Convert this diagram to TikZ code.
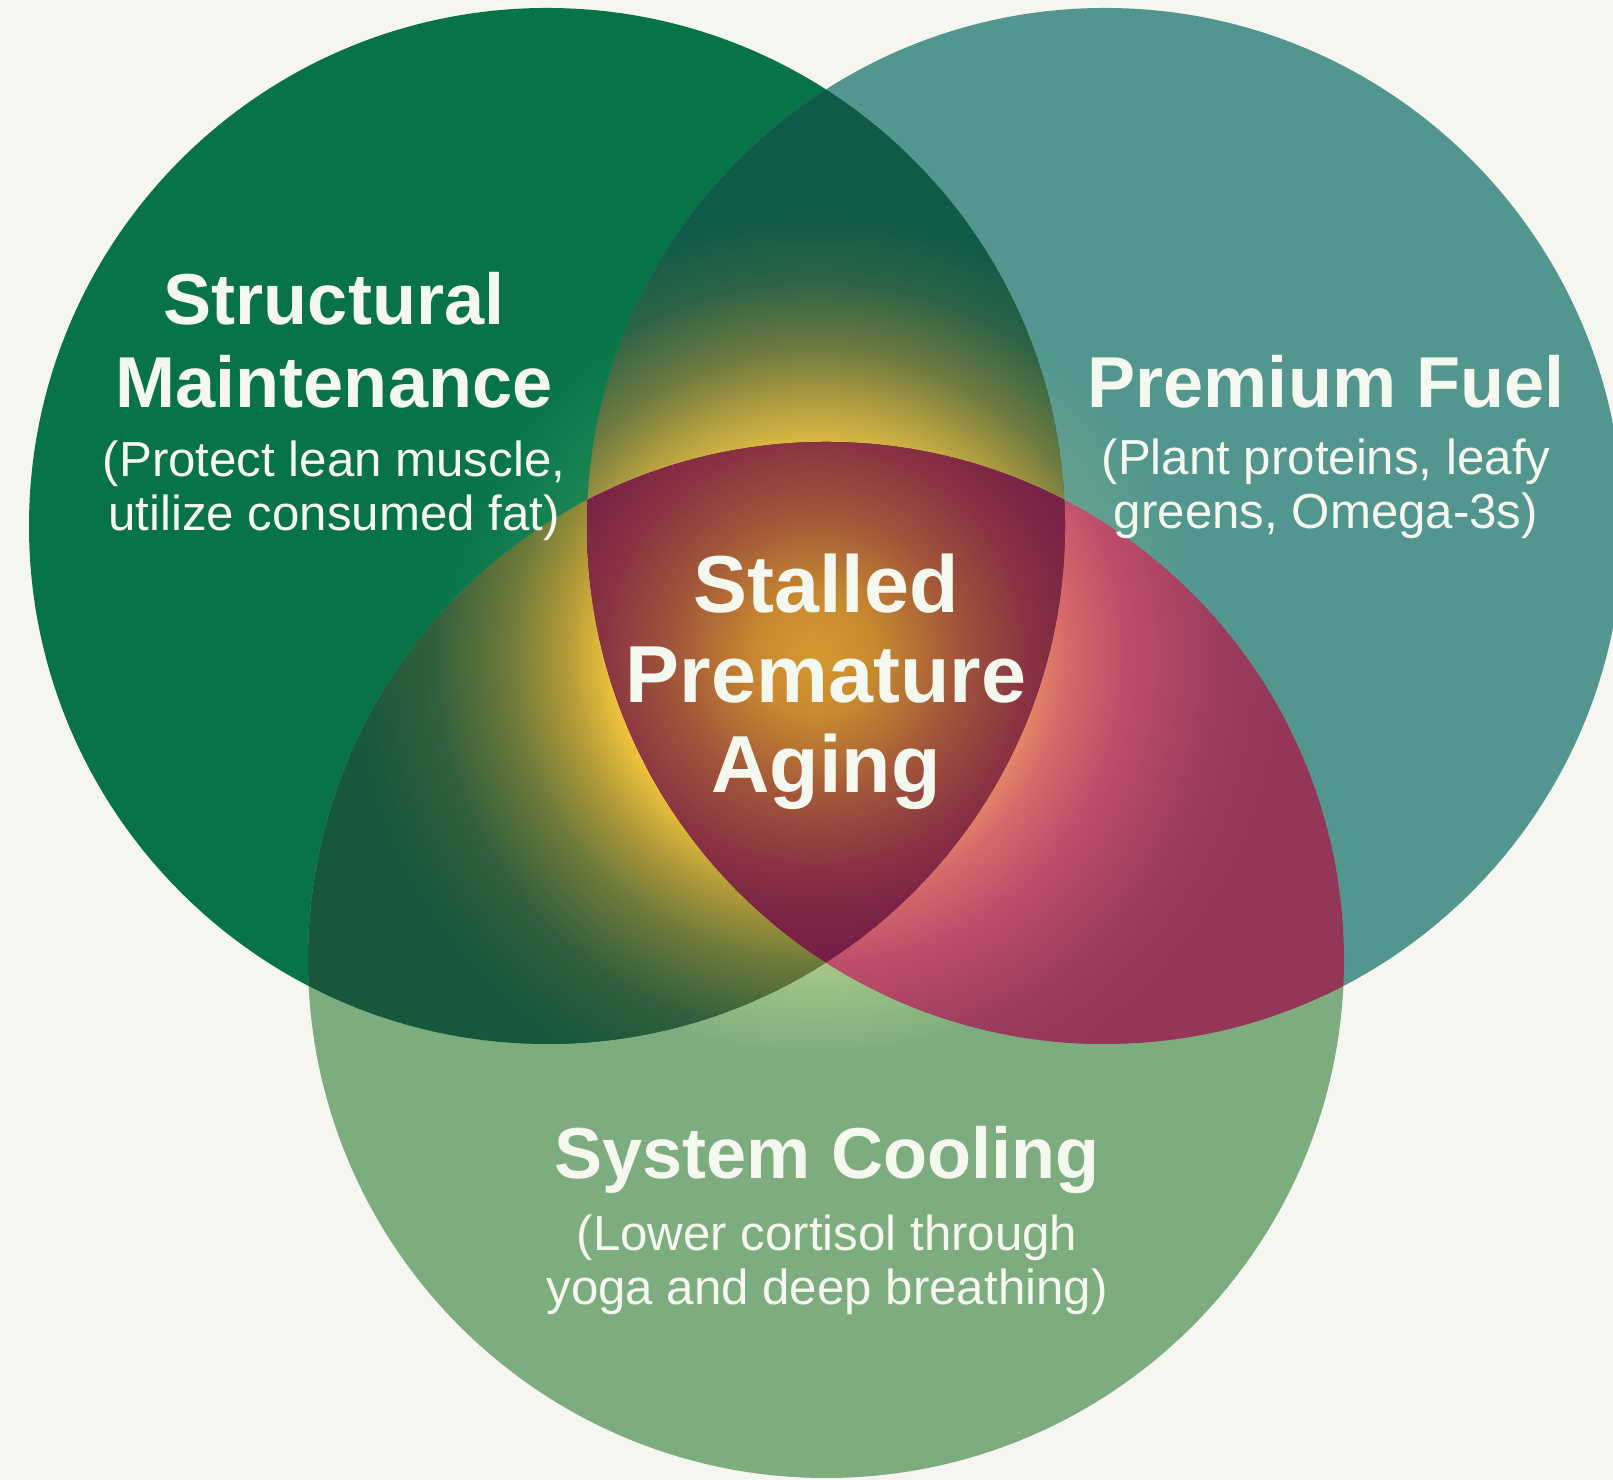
\documentclass[tikz,border=0pt]{standalone}
\usepackage{fontspec}
\setmainfont{Liberation Sans}
\usetikzlibrary{positioning}

\definecolor{paper}{HTML}{F5F6EF}
\definecolor{leafgreen}{HTML}{077347}
\definecolor{tealfuel}{HTML}{52968F}
\definecolor{sagecool}{HTML}{7DAD7E}
\definecolor{toplens}{HTML}{0F5A48}
\definecolor{leftlens}{HTML}{17573B}
\definecolor{rightlens}{HTML}{933658}
\definecolor{coremaroon}{HTML}{771E48}
\definecolor{labelwhite}{HTML}{F4F8EF}

% glow profiles, 25bp is the rim of the shaded circle
\pgfdeclareradialshading{glowleaf}{\pgfpointorigin}{color(0bp)=(rgb,255:red,44;green,138;blue,82); color(12bp)=(rgb,255:red,44;green,138;blue,82); color(16bp)=(rgb,255:red,21;green,128;blue,80); color(20bp)=(leafgreen); color(50bp)=(leafgreen)}
\pgfdeclareradialshading{glowteal}{\pgfpointorigin}{color(0bp)=(rgb,255:red,127;green,168;blue,144); color(12bp)=(rgb,255:red,127;green,168;blue,144); color(16bp)=(rgb,255:red,99;green,160;blue,143); color(20bp)=(tealfuel); color(50bp)=(tealfuel)}
\pgfdeclareradialshading{glowsage}{\pgfpointorigin}{color(0bp)=(rgb,255:red,200;green,214;blue,144); color(13bp)=(rgb,255:red,200;green,214;blue,144); color(17bp)=(rgb,255:red,157;green,193;blue,133); color(21bp)=(sagecool); color(50bp)=(sagecool)}
\pgfdeclareradialshading{glowtop}{\pgfpointorigin}{color(0bp)=(rgb,255:red,238;green,198;blue,69); color(10bp)=(rgb,255:red,238;green,198;blue,69); color(13bp)=(rgb,255:red,181;green,160;blue,64); color(16bp)=(rgb,255:red,110;green,122;blue,64); color(19.5bp)=(rgb,255:red,45;green,100;blue,70); color(23bp)=(toplens); color(50bp)=(toplens)}
\pgfdeclareradialshading{glowleft}{\pgfpointorigin}{color(0bp)=(rgb,255:red,240;green,195;blue,61); color(10.5bp)=(rgb,255:red,240;green,195;blue,61); color(13bp)=(rgb,255:red,178;green,154;blue,56); color(16bp)=(rgb,255:red,110;green,122;blue,58); color(20bp)=(rgb,255:red,48;green,95;blue,60); color(24bp)=(leftlens); color(50bp)=(leftlens)}
\pgfdeclareradialshading{glowright}{\pgfpointorigin}{color(0bp)=(rgb,255:red,234;green,152;blue,100); color(10.5bp)=(rgb,255:red,234;green,152;blue,100); color(13bp)=(rgb,255:red,214;green,106;blue,106); color(16bp)=(rgb,255:red,192;green,78;blue,106); color(21bp)=(rgb,255:red,156;green,60;blue,94); color(25bp)=(rightlens); color(50bp)=(rightlens)}
\pgfdeclareradialshading{glowcore}{\pgfpointorigin}{color(0bp)=(rgb,255:red,212;green,154;blue,50); color(5bp)=(rgb,255:red,200;green,137;blue,47); color(12bp)=(rgb,255:red,160;green,85;blue,58); color(18bp)=(rgb,255:red,136;green,50;blue,66); color(22bp)=(rgb,255:red,124;green,36;blue,70); color(25bp)=(coremaroon); color(50bp)=(coremaroon)}

\begin{document}
\begin{tikzpicture}[x=0.01cm,y=0.01cm,
  title/.style={text=labelwhite,font=\fontsize{20.5}{23.6}\selectfont\bfseries,align=center,inner sep=0pt},
  core title/.style={title,font=\fontsize{23}{25.6}\selectfont\bfseries},
  note/.style={text=labelwhite,font=\fontsize{14}{15.4}\selectfont,align=center,inner sep=0pt}]
  \useasboundingbox (0,0) rectangle (1613,1480);
  \fill[paper] (0,0) rectangle (1613,1480);
  \def\rad{518}
  \def\glow{480}
  \coordinate (cL) at (547,954);
  \coordinate (cR) at (1105,954);
  \coordinate (cB) at (826,520);
  \coordinate (G) at (815,825);

  % the three circles
  \begin{scope}
    \fill[leafgreen] (cL) circle (\rad);
    \clip (cL) circle (\rad);
    \shade[shading=glowleaf] (G) circle (\glow);
  \end{scope}
  \begin{scope}
    \fill[tealfuel] (cR) circle (\rad);
    \clip (cR) circle (\rad);
    \shade[shading=glowteal] (G) circle (\glow);
  \end{scope}
  \begin{scope}
    \fill[sagecool] (cB) circle (\rad);
    \clip (cB) circle (\rad);
    \shade[shading=glowsage] (G) circle (\glow);
  \end{scope}

  % pairwise overlaps
  \begin{scope}
    \clip (cL) circle (\rad);
    \clip (cR) circle (\rad);
    \fill[toplens] (cL) circle (\rad);
    \shade[shading=glowtop] (G) circle (\glow);
  \end{scope}
  \begin{scope}
    \clip (cL) circle (\rad);
    \clip (cB) circle (\rad);
    \fill[leftlens] (cL) circle (\rad);
    \shade[shading=glowleft] (G) circle (\glow);
  \end{scope}
  \begin{scope}
    \clip (cR) circle (\rad);
    \clip (cB) circle (\rad);
    \fill[rightlens] (cR) circle (\rad);
    \shade[shading=glowright] (G) circle (\glow);
  \end{scope}

  % centre
  \begin{scope}
    \clip (cL) circle (\rad);
    \clip (cR) circle (\rad);
    \clip (cB) circle (\rad);
    \fill[coremaroon] (cB) circle (\rad);
    \shade[shading=glowcore] (G) circle (300);
  \end{scope}

  % labels
  \node[title] (maintT) at (334,1140) {Structural\\Maintenance};
  \node[note,below=0.31cm of maintT] (maintN) {(Protect lean muscle,\\utilize consumed fat)};
  \node[title,anchor=base] (fuelT) at (1326,1072) {Premium Fuel};
  \node[note,below=0.285cm of fuelT] (fuelN) {(Plant proteins, leafy\\greens, Omega-3s)};
  \node[core title] (agingT) at (826,798) {Stalled\\Premature\\Aging};
  \node[title,anchor=base] (coolT) at (827,301) {System Cooling};
  \node[note,below=0.19cm of coolT] (coolN) {(Lower cortisol through\\yoga and deep breathing)};
\end{tikzpicture}
\end{document}
